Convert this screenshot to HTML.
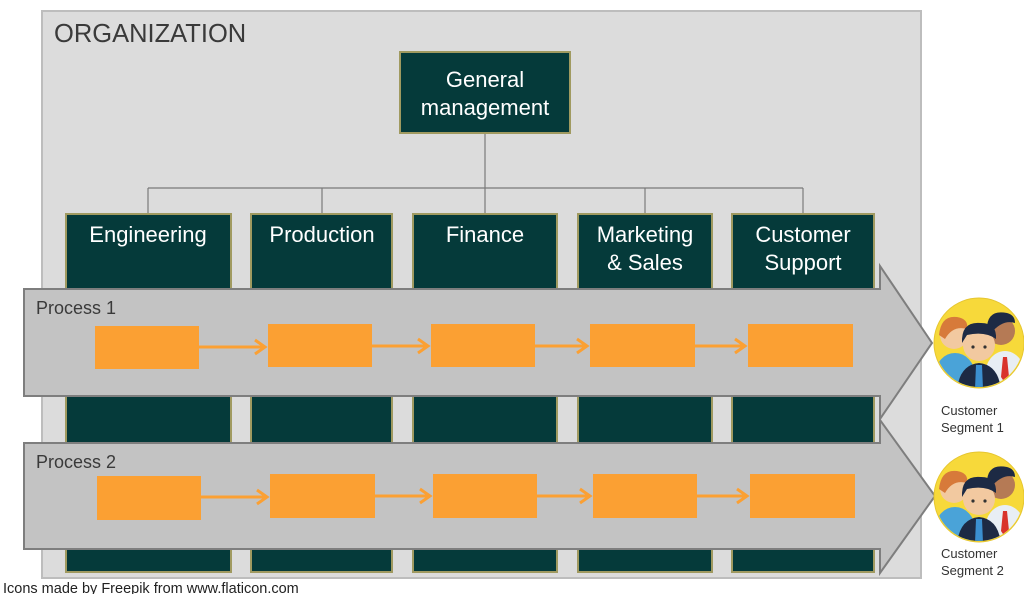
<!DOCTYPE html>
<html><head><meta charset="utf-8"><style>
html,body{margin:0;padding:0;background:#fff;width:1024px;height:594px;overflow:hidden}
svg{display:block;font-family:"Liberation Sans",Arial,sans-serif}
</style></head><body>
<svg width="1024" height="594" viewBox="0 0 1024 594" xmlns="http://www.w3.org/2000/svg">
<defs>
<g id="people">
  <circle cx="0" cy="0" r="45" fill="#f7d93a" stroke="#e6c630"/>
  <clipPath id="cc"><circle cx="0" cy="0" r="44"/></clipPath>
  <g clip-path="url(#cc)">
    <ellipse cx="-24" cy="32" rx="20" ry="22" fill="#4aa3d8"/>
    <circle cx="-25" cy="-8" r="14" fill="#f2c9a0"/>
    <path d="M-40 -8 Q-38 -28 -22 -26 Q-10 -24 -12 -14 Q-26 -18 -34 -4 Z" fill="#d77a3a"/>
    <ellipse cx="26" cy="32" rx="20" ry="24" fill="#e8eef4"/>
    <path d="M24 14 L28 14 L30 34 L26 40 L22 34 Z" fill="#d9332b"/>
    <circle cx="22" cy="-12" r="14" fill="#b57a55"/>
    <path d="M8 -14 Q8 -34 28 -30 Q36 -28 36 -20 Q24 -24 12 -10 Z" fill="#1d2a44"/>
    <path d="M-22 48 Q-20 22 0 20 Q20 22 22 48 Z" fill="#1d2a44"/>
    <path d="M-3 22 L3 22 L4 46 L-4 46 Z" fill="#3b8fd0"/>
    <circle cx="0" cy="2" r="16" fill="#f2c9a0"/>
    <path d="M-17 0 Q-18 -22 2 -20 Q18 -20 17 -4 Q6 -12 -12 -8 Z" fill="#1d2a44"/>
    <circle cx="-6" cy="4" r="1.6" fill="#333"/><circle cx="6" cy="4" r="1.6" fill="#333"/>
  </g>
</g>
</defs>
<rect x="42" y="11" width="879" height="567" fill="#dcdcdc" stroke="#bdbdbd" stroke-width="2"/>
<text x="54" y="42" font-size="25.5" fill="#3a3a3a">ORGANIZATION</text>
<g stroke="#7a7a7a" stroke-width="1.2" fill="none">
<line x1="485" y1="133" x2="485" y2="213"/>
<line x1="148" y1="188" x2="803" y2="188"/>
<line x1="148" y1="188" x2="148" y2="213"/>
<line x1="322" y1="188" x2="322" y2="213"/>
<line x1="645" y1="188" x2="645" y2="213"/>
<line x1="803" y1="188" x2="803" y2="213"/>
</g>
<rect x="400" y="52" width="170" height="81" fill="#053a3a" stroke="#a09a60" stroke-width="2"/>
<text x="485" y="87" font-size="22" fill="#fff" text-anchor="middle">General</text>
<text x="485" y="115" font-size="22" fill="#fff" text-anchor="middle">management</text>
<g fill="#053a3a" stroke="#a09a60" stroke-width="2">
<rect x="66" y="214" width="165" height="358"/>
<rect x="251" y="214" width="141" height="358"/>
<rect x="413" y="214" width="144" height="358"/>
<rect x="578" y="214" width="134" height="358"/>
<rect x="732" y="214" width="142" height="358"/>
</g>
<g font-size="22" fill="#fff" text-anchor="middle">
<text x="148" y="242">Engineering</text>
<text x="322" y="242">Production</text>
<text x="485" y="242">Finance</text>
<text x="645" y="242">Marketing</text>
<text x="645" y="270">&amp; Sales</text>
<text x="803" y="242">Customer</text>
<text x="803" y="270">Support</text>
</g>
<path d="M24 289 L880 289 L880 266 L932 343 L880 419 L880 396 L24 396 Z" fill="#c3c3c3" stroke="#7e7e7e" stroke-width="2"/>
<path d="M24 443 L880 443 L880 420 L935 496 L880 573 L880 549 L24 549 Z" fill="#c3c3c3" stroke="#7e7e7e" stroke-width="2"/>
<text x="36" y="314" font-size="18" fill="#3a3a3a">Process 1</text>
<text x="36" y="468" font-size="18" fill="#3a3a3a">Process 2</text>
<g fill="#fba033">
<rect x="95" y="326" width="104" height="43"/>
<rect x="268" y="324" width="104" height="43"/>
<rect x="431" y="324" width="104" height="43"/>
<rect x="590" y="324" width="105" height="43"/>
<rect x="748" y="324" width="105" height="43"/>
<rect x="97" y="476" width="104" height="44"/>
<rect x="270" y="474" width="105" height="44"/>
<rect x="433" y="474" width="104" height="44"/>
<rect x="593" y="474" width="104" height="44"/>
<rect x="750" y="474" width="105" height="44"/>
</g>
<g stroke="#fba033" stroke-width="3" fill="none">
<path d="M199 347 H264 M255 340 L265 347 L255 354"/>
<path d="M372 346 H427 M418 339 L428 346 L418 353"/>
<path d="M535 346 H586 M577 339 L587 346 L577 353"/>
<path d="M695 346 H744 M735 339 L745 346 L735 353"/>
<path d="M201 497 H266 M257 490 L267 497 L257 504"/>
<path d="M375 496 H429 M420 489 L430 496 L420 503"/>
<path d="M537 496 H589 M580 489 L590 496 L580 503"/>
<path d="M697 496 H746 M737 489 L747 496 L737 503"/>
</g>
<use href="#people" x="979" y="343"/>
<use href="#people" x="979" y="497"/>
<g font-size="13" fill="#333">
<text x="941" y="415">Customer</text>
<text x="941" y="432">Segment 1</text>
<text x="941" y="558">Customer</text>
<text x="941" y="575">Segment 2</text>
</g>
<text x="3" y="593" font-size="14.5" fill="#222">Icons made by Freepik from www.flaticon.com</text>
</svg>
</body></html>
